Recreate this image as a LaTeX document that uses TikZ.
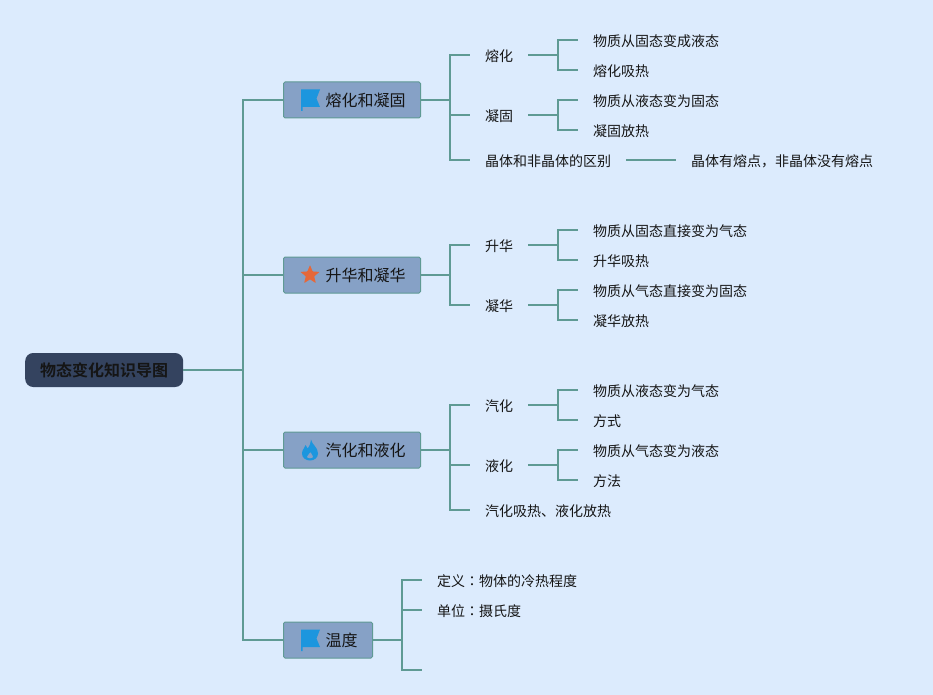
\documentclass[tikz,border=0pt]{standalone}
\usepackage{fontspec}
\setmainfont{Noto Sans CJK SC}[BoldFont={Noto Sans CJK SC Bold}]
\newfontfamily\tcfont{Noto Sans CJK TC}
\usetikzlibrary{calc}
\definecolor{bgc}{HTML}{DCEBFD}
\definecolor{rootc}{HTML}{34435F}
\definecolor{topicc}{HTML}{86A1C6}
\definecolor{linec}{HTML}{5F9A94}
\definecolor{txtc}{HTML}{151515}
\definecolor{flagc}{HTML}{1C96DE}
\definecolor{starc}{HTML}{E5683A}
\tikzset{
  x=1pt,y=-1pt,
  rootnode/.style={fill=rootc,rounded corners=8pt,minimum height=34pt,minimum width=158pt,inner sep=0pt,
     font=\fontsize{16}{16}\selectfont\bfseries,text=txtc,anchor=west},
  topic/.style={fill=topicc,draw=linec,line width=1pt,rounded corners=1.5pt,minimum height=36pt,inner ysep=0pt,
     inner xsep=15pt,font=\fontsize{16}{16}\selectfont,text=txtc,anchor=west},
  leaf/.style={inner xsep=15pt,inner ysep=0pt,font=\fontsize{14}{14}\selectfont,text=txtc,anchor=west,text height=13pt,text depth=0pt},
  conn/.style={draw=linec,line width=2pt},
  flagicon/.pic={\fill[flagc] (-9,-10.5) -- (10,-10.5) -- (6.5,-1.5) -- (10,7) -- (-7.5,7) -- (-7.5,11) -- (-9,11) -- cycle;},
  staricon/.pic={\fill[starc,rounded corners=0.6pt] (0,-10) -- (2.59,-3.56) -- (9.51,-3.09) -- (4.18,1.36)
     -- (5.88,8.09) -- (0,4.4) -- (-5.88,8.09) -- (-4.18,1.36) -- (-9.51,-3.09) -- (-2.59,-3.56) -- cycle;},
  flameicon/.pic={\fill[flagc,even odd rule] (1,-10.5) .. controls (2,-5) and (8,-3) .. (8,3.5)
     .. controls (8,8) and (4,10.5) .. (0,10.5) .. controls (-4,10.5) and (-8,8) .. (-8,3.5)
     .. controls (-8,-0.5) and (-5,-2) .. (-4.5,-5) .. controls (-3,-4) and (-2.5,-3) .. (-2.2,-1.5)
     .. controls (-0.5,-4) and (1,-7) .. (1,-10.5) -- cycle
     (0.5,2) .. controls (1,4.5) and (3.5,5) .. (3.2,7) .. controls (3,8.8) and (-3,8.8) .. (-3.2,7)
     .. controls (-3.5,5) and (-0.5,4.5) .. (0.5,2) -- cycle;}
}
\begin{document}
\begin{tikzpicture}
\useasboundingbox[fill=bgc] (0,0) rectangle (933,695);
% root and topics
\node[rootnode] (root) at (25,370) {物态变化知识导图};
\coordinate (trunk) at (243,370);
\node[topic] (t1) at (283,100) {\hspace{27pt}熔化和凝固};
\node[topic] (t2) at (283,275) {\hspace{27pt}升华和凝华};
\node[topic] (t3) at (283,450) {\hspace{27pt}汽化和液化};
\node[topic] (t4) at (283,640) {\hspace{27pt}温度};
\pic at ($(t1.west)+(27,0)$) {flagicon};
\pic at ($(t2.west)+(27,0)$) {staricon};
\pic at ($(t3.west)+(27,0)$) {flameicon};
\pic at ($(t4.west)+(27,0)$) {flagicon};
% level 2, topic 1
\node[leaf] (a1) at (470,55) {熔化};
\node[leaf] (a2) at (470,115) {凝固};
\node[leaf] (a3) at (470,160) {晶体和非晶体的区别};
\node[leaf] (a11) at (578,40) {物质从固态变成液态};
\node[leaf] (a12) at (578,70) {熔化吸热};
\node[leaf] (a21) at (578,100) {物质从液态变为固态};
\node[leaf] (a22) at (578,130) {凝固放热};
\node[leaf] (a31) at (676,160) {晶体有熔点，非晶体没有熔点};
% topic 2
\node[leaf] (b1) at (470,245) {升华};
\node[leaf] (b2) at (470,305) {凝华};
\node[leaf] (b11) at (578,230) {物质从固态直接变为气态};
\node[leaf] (b12) at (578,260) {升华吸热};
\node[leaf] (b21) at (578,290) {物质从气态直接变为固态};
\node[leaf] (b22) at (578,320) {凝华放热};
% topic 3
\node[leaf] (c1) at (470,405) {汽化};
\node[leaf] (c2) at (470,465) {液化};
\node[leaf] (c3) at (470,510) {汽化吸热、液化放热};
\node[leaf] (c11) at (578,390) {物质从液态变为气态};
\node[leaf] (c12) at (578,420) {方式};
\node[leaf] (c21) at (578,450) {物质从气态变为液态};
\node[leaf] (c22) at (578,480) {方法};
% topic 4
\node[leaf] (d1) at (422,580) {定义{\tcfont ：}物体的冷热程度};
\node[leaf] (d2) at (422,610) {单位{\tcfont ：}摄氏度};
\coordinate (d3) at (422,670);
% connectors
\foreach \t in {t1,t2,t3,t4}{\draw[conn] (root.east) -- (trunk) |- (\t.west);}
\foreach \p/\c in {t1/a1,t1/a2,t1/a3,t2/b1,t2/b2,t3/c1,t3/c2,t3/c3}{
  \draw[conn] (\p.east) -- (\p.east -| 450,0) |- (\c.west);}
\foreach \c in {d1,d2,d3}{\draw[conn] (t4.east) -- (t4.east -| 402,0) |- (\c);}
\foreach \p/\c in {a1/a11,a1/a12,a2/a21,a2/a22,b1/b11,b1/b12,b2/b21,b2/b22,c1/c11,c1/c12,c2/c21,c2/c22}{
  \draw[conn] (\p.east) -- (\p.east -| 558,0) |- (\c.west);}
\draw[conn] (a3.east) -- (a31.west);
\end{tikzpicture}
\end{document}
